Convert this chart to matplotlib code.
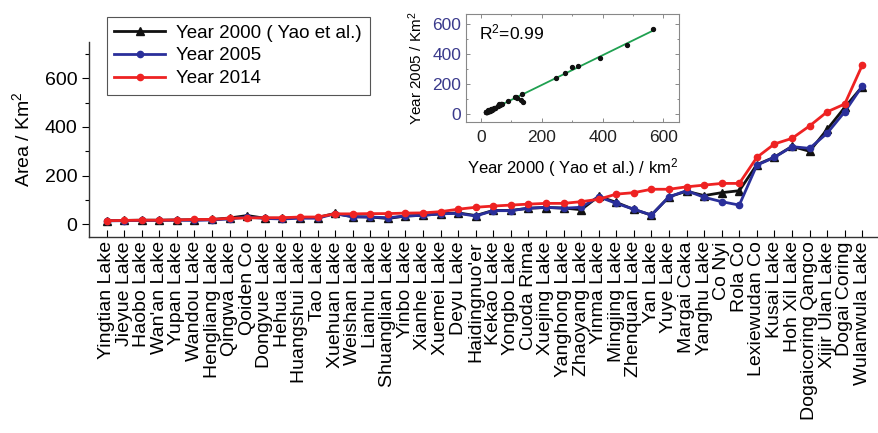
import numpy as np
import matplotlib
matplotlib.use("Agg")
import matplotlib.pyplot as plt
from matplotlib.ticker import MultipleLocator

plt.rcParams['font.family'] = ['Liberation Sans', 'DejaVu Sans']
plt.rcParams['mathtext.fontset'] = 'custom'
plt.rcParams['mathtext.rm'] = 'Liberation Sans'
plt.rcParams['mathtext.default'] = 'regular'

lakes = ["Yingtian Lake", "Jieyue Lake", "Haobo Lake", "Wan'an Lake", "Yupan Lake",
         "Wandou Lake", "Hengliang Lake", "Qingwa Lake", "Qoiden Co", "Dongyue Lake",
         "Hehua Lake", "Huangshui Lake", "Tao Lake", "Xuehuan Lake", "Weishan Lake",
         "Lianhu Lake", "Shuanglian Lake", "Yinbo Lake", "Xianhe Lake", "Xuemei Lake",
         "Deyu Lake", "Haidingnuo'er", "Kekao Lake", "Yongbo Lake", "Cuoda Rima",
         "Xuejing Lake", "Yanghong Lake", "Zhaoyang Lake", "Yinma Lake", "Mingjing Lake",
         "Zhenquan Lake", "Yan Lake", "Yuye Lake", "Margai Caka", "Yanghu Lake",
         "Co Nyi", "Rola Co", "Lexiewudan Co", "Kusai Lake", "Hoh Xil Lake",
         "Dogaicoring Qangco", "Xijir Ulan Lake", "Dogai Coring", "Wulanwula Lake"]

area_2000 = [15, 16, 17, 17, 18, 19, 20, 26, 36, 25,
             25, 28, 28, 45, 31, 30, 24, 34, 37, 43,
             47, 36, 57, 57, 66, 69, 67, 60, 115, 90,
             61, 38, 113, 136, 118, 130, 138, 245, 276, 320,
             300, 390, 480, 566]
area_2005 = [14, 15, 16, 16, 17, 16, 18, 22, 30, 24,
             22, 25, 25, 43, 31, 30, 27, 34, 37, 43,
             45, 34, 56, 56, 66, 70, 66, 70, 113, 86,
             62, 38, 113, 138, 111, 93, 79, 243, 275, 319,
             312, 374, 462, 568]
area_2014 = [15, 16, 17, 17, 18, 20, 20, 25, 26, 27,
             27, 30, 30, 43, 43, 44, 44, 46, 47, 52,
             62, 70, 75, 79, 83, 86, 86, 93, 103, 124,
             130, 144, 144, 154, 161, 168, 168, 275, 330, 353,
             404, 462, 494, 654]

c_black = "#111111"
c_blue = "#2a2f9a"
c_red = "#ee2222"

fig = plt.figure(figsize=(8.79, 4.33), dpi=100)
ax = fig.add_axes([0.1013, 0.4527, 0.8977, 0.451])

x = np.arange(len(lakes))
ax.plot(x, area_2000, color=c_black, lw=2.0, marker='^', ms=5.5,
        label="Year 2000 ( Yao et al.)", zorder=3)
ax.plot(x, area_2005, color=c_blue, lw=2.0, marker='o', ms=4.5,
        label="Year 2005", zorder=4)
ax.plot(x, area_2014, color=c_red, lw=2.0, marker='o', ms=4.5,
        label="Year 2014", zorder=5)

ax.set_xlim(-1.0, 43.9)
ax.set_ylim(-52, 750)
ax.set_xticks(x)
ax.set_xticklabels(lakes, rotation=90, fontsize=14)
ax.yaxis.set_major_locator(MultipleLocator(200))
ax.yaxis.set_minor_locator(MultipleLocator(100))
ax.tick_params(axis='y', which='major', direction='out', length=5, width=0.8, labelsize=14)
ax.tick_params(axis='y', which='minor', direction='out', length=3, width=0.8)
ax.tick_params(axis='x', which='major', direction='in', length=5, width=0.8, pad=3)
for s in ['top', 'right']:
    ax.spines[s].set_visible(False)
for s in ['left', 'bottom']:
    ax.spines[s].set_linewidth(1.0)
    ax.spines[s].set_color('#333333')
ax.set_ylabel("Area / Km$^2$", fontsize=14, labelpad=8)

leg = ax.legend(loc='upper left', bbox_to_anchor=(107 / 879, 1 - 17 / 433),
                bbox_transform=fig.transFigure, borderaxespad=0, fontsize=13.5,
                frameon=True, fancybox=False, framealpha=1, edgecolor='#555555',
                handlelength=2.7, handletextpad=0.6, labelspacing=0.3,
                borderpad=0.4)
leg.get_frame().set_linewidth(0.8)

# Inset: 2000 vs 2005 areas with linear fit
ins = fig.add_axes([0.530, 0.7182, 0.2427, 0.2494])
ins.scatter(area_2000, area_2005, s=8, color=c_black, zorder=3)
coef = np.polyfit(area_2000, area_2005, 1)
xf = np.array([min(area_2000), max(area_2000)])
ins.plot(xf, np.polyval(coef, xf), color="#1fa050", lw=1.3, zorder=2)
pred = np.polyval(coef, area_2000)
ss_res = np.sum((np.array(area_2005) - pred) ** 2)
ss_tot = np.sum((np.array(area_2005) - np.mean(area_2005)) ** 2)
r2 = 1 - ss_res / ss_tot
ins.text(0.06, 0.83, "R$^2$=%.2f" % r2, transform=ins.transAxes, fontsize=12.5,
         va='center', ha='left')
ins.set_xlim(-50, 652)
ins.set_ylim(-51, 666)
ins.xaxis.set_major_locator(MultipleLocator(200))
ins.xaxis.set_minor_locator(MultipleLocator(100))
ins.yaxis.set_major_locator(MultipleLocator(200))
ins.yaxis.set_minor_locator(MultipleLocator(100))
ins.tick_params(which='both', direction='in', top=True, right=True,
                width=0.6, colors='#777777')
ins.tick_params(which='major', length=3)
ins.tick_params(which='minor', length=1.5)
ins.tick_params(axis='x', labelsize=12.5, labelcolor='#222222', pad=6)
ins.tick_params(axis='y', labelsize=12.5, labelcolor='#3a3a8c')
for s in ins.spines.values():
    s.set_color('#888888')
    s.set_linewidth(0.8)
ins.set_xlabel("Year 2000 ( Yao et al.) / km$^2$", fontsize=12, labelpad=8)
ins.set_ylabel("Year 2005 / Km$^2$", fontsize=11, labelpad=5)

fig.savefig("out.png", dpi=100)
